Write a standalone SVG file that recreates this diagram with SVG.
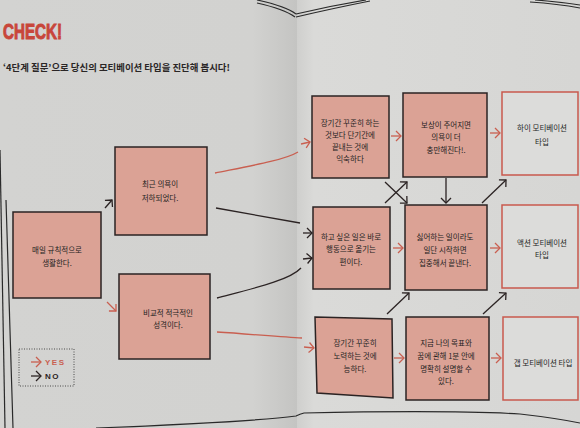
<svg xmlns="http://www.w3.org/2000/svg" width="580" height="428" viewBox="0 0 580 428">
<defs>
<style>
.box{fill:#dba295;stroke:#2b2323;stroke-width:1.5}
.res{fill:#dcdcda;stroke:#c9594d;stroke-width:1.5}
.t{font-family:"Noto Sans CJK KR","Noto Sans",sans-serif;font-size:7.5px;fill:#231e1e;text-anchor:middle}
.k{fill:none;stroke:#2b2323;stroke-width:1.3}
.r{fill:none;stroke:#c95f50;stroke-width:1.3}
.ka{fill:none;stroke:#2b2323;stroke-width:1.3;marker-end:url(#mk)}
.ra{fill:none;stroke:#c95f50;stroke-width:1.3;marker-end:url(#mr)}
.edge{fill:none;stroke:#2a2a2a;stroke-width:1.2}
</style>
<marker id="mk" viewBox="-7 -7 9 14" markerWidth="9" markerHeight="14" refX="0" refY="0" orient="auto" markerUnits="userSpaceOnUse"><path d="M-5,-5 L0,0 L-5,5" fill="none" stroke="#2b2323" stroke-width="1.3"/></marker>
<marker id="mr" viewBox="-7 -7 9 14" markerWidth="9" markerHeight="14" refX="0" refY="0" orient="auto" markerUnits="userSpaceOnUse"><path d="M-5,-5 L0,0 L-5,5" fill="none" stroke="#c95f50" stroke-width="1.3"/></marker>
<linearGradient id="lp" x1="0" y1="0" x2="1" y2="0">
<stop offset="0" stop-color="#d3d3d1"/><stop offset="0.85" stop-color="#d2d2d0"/><stop offset="1" stop-color="#c4c4c2"/>
</linearGradient>
<linearGradient id="rp" x1="0" y1="0" x2="1" y2="0">
<stop offset="0" stop-color="#cfcfcd"/><stop offset="0.06" stop-color="#dadad8"/><stop offset="1" stop-color="#d6d6d4"/>
</linearGradient>
</defs>
<rect x="0" y="0" width="297" height="428" fill="url(#lp)"/>
<rect x="297" y="0" width="283" height="428" fill="url(#rp)"/>
<g id="page-edges">
<path class="edge" d="M0,150 L5,428"/>
<path class="edge" d="M6,200 L13,428"/>
<path class="edge" d="M257,0 Q285,6 296,14"/>
<path class="edge" d="M257,3 Q284,9 295,17"/>
<path class="edge" d="M296,14 Q330,6 366,0"/>
<path class="edge" d="M296,17 Q330,9 370,1"/>
<path class="edge" d="M535,0 Q560,2 580,5"/>
<path class="edge" d="M530,2 Q558,4 580,8"/>
<path class="edge" d="M96,428 Q250,422 296,416 Q300,414 304,413 Q450,410 520,414 Q555,418 580,423"/>
</g>
<text x="3" y="39" font-family="Liberation Sans,Arial,sans-serif" font-weight="bold" font-size="22" fill="#c8463a" stroke="#c8463a" stroke-width="1" textLength="59" lengthAdjust="spacingAndGlyphs">CHECK!</text>
<text x="3" y="71" font-family="Noto Sans CJK KR,sans-serif" font-weight="bold" font-size="9" fill="#2a2626" textLength="227" lengthAdjust="spacingAndGlyphs">‘4단계 질문’으로 당신의 모티베이션 타입을 진단해 봅시다!</text>

<g id="n-daily"><rect class="box" x="13" y="212" width="88" height="86"/><text class="t" x="57"><tspan x="57" y="253">매일 규칙적으로</tspan><tspan x="57" y="266">생활한다.</tspan></text></g>
<g id="n-recent"><rect class="box" x="115" y="147" width="92" height="88"/><text class="t"><tspan x="160" y="187">최근 의욕이</tspan><tspan x="160" y="201">저하되었다.</tspan></text></g>
<g id="n-active"><rect class="box" x="119" y="274" width="91" height="85"/><text class="t"><tspan x="168" y="316">비교적 적극적인</tspan><tspan x="168" y="328">성격이다.</tspan></text></g>

<g id="n-short"><rect class="box" x="312" y="96" width="77" height="82"/><text class="t"><tspan x="350" y="126">장기간 꾸준히 하는</tspan><tspan x="350" y="138">것보다 단기간에</tspan><tspan x="350" y="150">끝내는 것에</tspan><tspan x="350" y="162">익숙하다</tspan></text></g>
<g id="n-reward"><rect class="box" x="403" y="93" width="84" height="84"/><text class="t"><tspan x="446" y="128">보상이 주어지면</tspan><tspan x="446" y="140">의욕이 더</tspan><tspan x="446" y="153">충만해진다!.</tspan></text></g>
<g id="n-high"><rect class="res" x="502" y="92" width="76" height="83"/><text class="t"><tspan x="542" y="131">하이 모티베이션</tspan><tspan x="542" y="145">타입</tspan></text></g>

<g id="n-act"><rect class="box" x="313" y="207" width="77" height="82"/><text class="t"><tspan x="351" y="240">하고 싶은 일은 바로</tspan><tspan x="351" y="252">행동으로 옮기는</tspan><tspan x="351" y="265">편이다.</tspan></text></g>
<g id="n-focus"><rect class="box" x="405" y="205" width="82" height="85"/><text class="t"><tspan x="445" y="240">싫어하는 일이라도</tspan><tspan x="445" y="253">일단 시작하면</tspan><tspan x="445" y="266">집중해서 끝낸다.</tspan></text></g>
<g id="n-action"><rect class="res" x="502" y="205" width="76" height="83"/><text class="t"><tspan x="542" y="246">액션 모티베이션</tspan><tspan x="542" y="258">타입</tspan></text></g>

<g id="n-long"><polygon class="box" points="315,317 392,319 393,398 317,393"/><text class="t"><tspan x="355" y="346">장기간 꾸준히</tspan><tspan x="355" y="359">노력하는 것에</tspan><tspan x="355" y="372">능하다.</tspan></text></g>
<g id="n-goal"><rect class="box" x="406" y="317" width="83" height="83"/><text class="t"><tspan x="446" y="346">지금 나의 목표와</tspan><tspan x="446" y="359">꿈에 관해 1분 안에</tspan><tspan x="446" y="372">명확히 설명할 수</tspan><tspan x="446" y="384">있다.</tspan></text></g>
<g id="n-gap"><rect class="res" x="503" y="317" width="75" height="83"/><text class="t"><tspan x="543" y="366">갭 모티베이션 타입</tspan></text></g>

<g id="legend">
<rect x="19" y="349" width="55" height="37" fill="none" stroke="#3a3a3a" stroke-width="0.9" stroke-dasharray="1,1.5"/>
<path class="ra" d="M31,362 L41,362"/>
<text x="45" y="365" font-family="Liberation Sans,Arial,sans-serif" font-weight="bold" font-size="8" fill="#c95f50" letter-spacing="1.5">YES</text>
<path class="ka" d="M31,376 L41,376"/>
<text x="45" y="379" font-family="Liberation Sans,Arial,sans-serif" font-weight="bold" font-size="8" fill="#2b2323" letter-spacing="1.5">NO</text>
</g>

<g id="connectors">
<path class="ka" d="M105,208 L112,200"/>
<path class="ra" d="M107,302 L116,311"/>
<path class="r" d="M215,173 C250,166 285,160 298,152"/>
<path class="ra" d="M301,144 L310,142"/>
<path class="k" d="M216,208 L300,223"/>
<path class="ka" d="M303,233 L312,233"/>
<path class="k" d="M217,298 C255,288 290,280 301,268"/>
<path class="ka" d="M303,259 L312,258"/>
<path class="r" d="M217,332 C250,334 280,337 302,338"/>
<path class="ra" d="M304,347 L314,348"/>
<path class="ra" d="M391,136 L401,136"/>
<path class="ra" d="M490,133 L500,133"/>
<path class="ra" d="M393,248 L403,248"/>
<path class="ra" d="M490,248 L500,248"/>
<path class="ra" d="M394,358 L404,358"/>
<path class="ra" d="M491,358 L501,358"/>
<path class="ka" d="M385,203 L407,182"/>
<path class="ka" d="M385,182 L407,203"/>
<path class="ka" d="M446,178 L446,203"/>
<path class="ka" d="M482,203 L506,180"/>
<path class="ka" d="M387,314 L409,293"/>
<path class="ka" d="M483,314 L506,293"/>
</g>
</svg>
